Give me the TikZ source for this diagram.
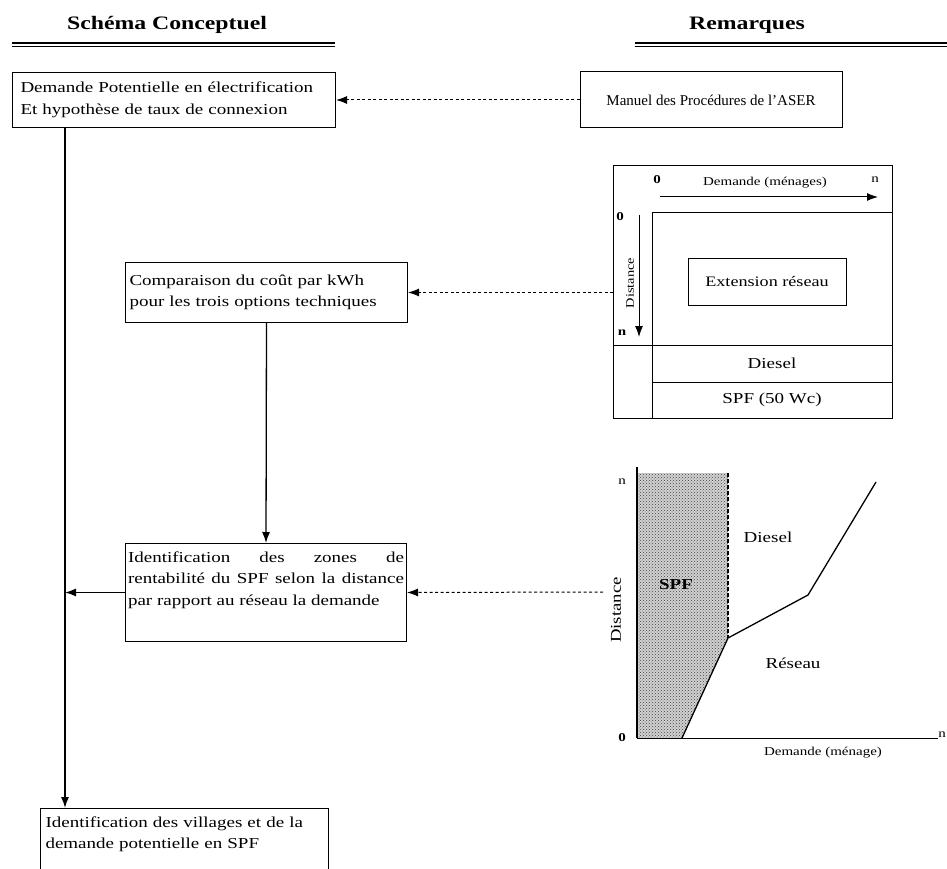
\documentclass[tikz,border=0pt]{standalone}
\usepackage{fontspec}
\setmainfont{Liberation Serif}[FakeStretch=1.25]
\newfontfamily\droitfont{Liberation Serif}[Ligatures=TeX]
\usetikzlibrary{arrows.meta,patterns,positioning}
\hyphenpenalty=10000

\newcommand\cadrefont{\fontsize{15.2}{21.5}\selectfont}
\newcommand\petitfont{\fontsize{12}{14}\selectfont}
\newcommand\titrefont{\fontsize{19}{22}\selectfont\bfseries}

\tikzset{
  cadre/.style={draw, line width=1pt, anchor=north west, align=left, font=\cadrefont, inner xsep=4pt},
  fleche/.style={-{Latex[length=11pt,width=8pt]}, line width=1.3pt},
  pointille/.style={fleche, dash pattern=on 3pt off 2.5pt, line width=1pt},
  etiq/.style={inner sep=1pt, font=\cadrefont},
  trait/.style={line width=1pt},
}

\begin{document}
\begin{tikzpicture}[x=1pt,y=-1pt]
\useasboundingbox (0,0) rectangle (947,869);

 %titres
 \node[font=\titrefont] (tconc) at (167,25) {Schéma Conceptuel};
 \node[font=\titrefont] (trem) at (747,25) {Remarques};
 \draw[line width=2pt] (12,43) -- (335,43);
 \draw[line width=0.7pt] (12,46.5) -- (335,46.5);
 \draw[line width=2pt] (635,43) -- (947,43);
 \draw[line width=0.7pt] (635,46.5) -- (947,46.5);

 %schema conceptuel
 \node[cadre, text width=307pt, inner xsep=8pt, minimum height=55pt] (dem) at (12,72)
   {Demande Potentielle en électrification\\Et hypothèse de taux de connexion};
 \node[cadre, text width=274pt, minimum height=60pt] (cmp) at (125,262)
   {Comparaison du coût par kWh\\pour les trois options techniques};
 \node[cadre, text width=276pt, inner xsep=2.5pt, minimum height=98pt, align=justify] (zone) at (125,543)
   {Identification des zones de rentabilité du SPF selon la distance par rapport au réseau la demande\\\strut};
 \node[cadre, text width=278pt, inner xsep=5pt, inner ysep=8pt] (vill) at (40,808)
   {Identification des villages et de la\\demande potentielle en SPF\\\strut};

 \coordinate (tronc) at (65,127);
 \draw[fleche] (tronc) -- (tronc |- vill.north);
 \draw[fleche] (cmp.south) -- (zone.north);
 \draw[fleche] (zone.west) -- (zone.west -| tronc);

 %remarques
 \node[draw, line width=1pt, minimum width=262pt, minimum height=56pt, font=\droitfont\fontsize{15}{17}\selectfont] (aser) at (711,100)
   {Manuel des Procédures de l’ASER};
 \draw[pointille] (aser.west) -- (dem.east);

 %grille des options
 \node[draw, trait, minimum width=279pt, minimum height=253pt, anchor=north west, inner sep=0pt] (grille) at (613,165) {};
 \draw[trait] (652,418) |- (892,212);
 \draw[trait] (613,345) -- (892,345);
 \draw[trait] (652,382) -- (892,382);
 \node[draw, trait, minimum width=158pt, minimum height=47pt, font=\fontsize{14.5}{17}\selectfont] (ext) at (767,281.5) {Extension réseau};
 \node[etiq] (diesA) at (772,363) {Diesel};
 \node[etiq] (spfA) at (772,400) {SPF (50 Wc)};
 \node[font=\petitfont] (dmA) at (765,183) {Demande (ménages)};
 \node[font=\petitfont\bfseries] (zA) at (657,180) {0};
 \node[font=\petitfont] (nA) at (875,180) {n};
 \node[font=\petitfont\bfseries] (zB) at (620,217) {0};
 \node[font=\petitfont\bfseries] (nB) at (622,333) {n};
 \node[font=\fontsize{11.5}{13}\selectfont, rotate=90] (dsA) at (630,283) {Distance};
 \draw[fleche, line width=1pt] (660,197) -- (878,197);
 \draw[fleche, line width=1pt] (639,215) -- (639,337);
 \draw[pointille] (grille.west |- cmp.east) -- (cmp.east);

 %courbe de rentabilite
 \fill[gray!35] (637,473) -- (728,473) -- (728,638) -- (682,738) -- (637,738) -- cycle;
 \fill[pattern=crosshatch dots, pattern color=gray!50!black] (637,473) -- (728,473) -- (728,638) -- (682,738) -- (637,738) -- cycle;
 \draw[line width=2pt] (637,467) -- (637,738);
 \draw[trait] (637,738) -- (938,738);
 \draw[line width=1.5pt, dash pattern=on 4pt off 2pt] (728,473) -- (728,638);
 \draw[line width=1.3pt] (682,738) -- (728,638) -- (808,595) -- (876,482);
 \node[etiq] (diesB) at (768,537) {Diesel};
 \node[etiq, font=\cadrefont\bfseries] (spfB) at (676,585) {SPF};
 \node[etiq] (resB) at (793,663) {Réseau};
 \node[font=\fontsize{15}{17}\selectfont, rotate=90] (dsB) at (616,610) {Distance};
 \node[font=\petitfont] (dmB) at (823,753) {Demande (ménage)};
 \node[font=\petitfont\bfseries] (zC) at (622,738) {0};
 \node[font=\petitfont] (nC) at (622,482) {n};
 \node[font=\petitfont, anchor=south east, inner sep=1pt] (nD) at (947,739) {n};
 \coordinate (courbe) at (603,592);
 \draw[pointille] (courbe) -- (zone.east);
\end{tikzpicture}
\end{document}
